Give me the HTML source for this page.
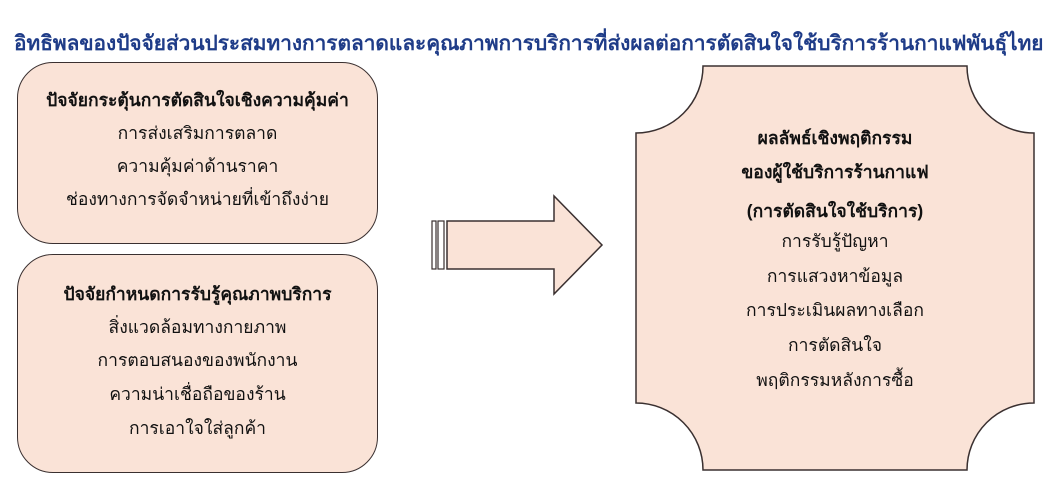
<!DOCTYPE html>
<html><head><meta charset="utf-8"><style>
body{margin:0;width:1056px;height:492px;background:#fff;position:relative;overflow:hidden;font-family:"Liberation Sans","DejaVu Sans",sans-serif;}
.t{position:absolute;white-space:nowrap;color:#111;font-size:17.5px;line-height:20px;text-align:center;}
.b{font-weight:bold;}
.box{position:absolute;background:#fae3d7;border:1.5px solid #3a3030;border-radius:36px;box-sizing:border-box;}
</style></head><body>
<div class="t b" style="left:14px;top:32px;font-size:20.8px;line-height:24px;color:#1f3c88;text-align:left;">อิทธิพลของปัจจัยส่วนประสมทางการตลาดและคุณภาพการบริการที่ส่งผลต่อการตัดสินใจใช้บริการร้านกาแฟพันธุ์ไทย</div>
<div class="box" style="left:17px;top:62px;width:361px;height:182px;"></div>
<div class="box" style="left:17px;top:254px;width:361px;height:219px;"></div>
<svg style="position:absolute;left:0;top:0" width="1056" height="492">
<rect x="432" y="221" width="4" height="48" fill="#fff" stroke="#3a3030" stroke-width="1.2"/>
<rect x="438" y="221" width="6" height="48" fill="#fff" stroke="#3a3030" stroke-width="1.2"/>
<path d="M447 221 H554 V196 L602 245 L554 294 V269 H447 Z" fill="#fae3d7" stroke="#3a3030" stroke-width="1.5"/>
<path d="M703 66 H967 A67 67 0 0 0 1034 133 V403 A67 67 0 0 0 967 470 H703 A67 67 0 0 0 636 403 V133 A67 67 0 0 0 703 66 Z" fill="#fae3d7" stroke="#3a3030" stroke-width="1.5"/>
</svg>
<div class="t b" style="left:17px;width:361px;top:90px;">ปัจจัยกระตุ้นการตัดสินใจเชิงความคุ้มค่า</div>
<div class="t" style="left:17px;width:361px;top:123px;">การส่งเสริมการตลาด</div>
<div class="t" style="left:17px;width:361px;top:156px;">ความคุ้มค่าด้านราคา</div>
<div class="t" style="left:17px;width:361px;top:189px;">ช่องทางการจัดจำหน่ายที่เข้าถึงง่าย</div>
<div class="t b" style="left:17px;width:361px;top:284px;">ปัจจัยกำหนดการรับรู้คุณภาพบริการ</div>
<div class="t" style="left:17px;width:361px;top:317px;">สิ่งแวดล้อมทางกายภาพ</div>
<div class="t" style="left:17px;width:361px;top:350px;">การตอบสนองของพนักงาน</div>
<div class="t" style="left:17px;width:361px;top:384px;">ความน่าเชื่อถือของร้าน</div>
<div class="t" style="left:17px;width:361px;top:418px;">การเอาใจใส่ลูกค้า</div>
<div class="t b" style="left:636px;width:398px;top:128px;">ผลลัพธ์เชิงพฤติกรรม</div>
<div class="t b" style="left:636px;width:398px;top:162px;">ของผู้ใช้บริการร้านกาแฟ</div>
<div class="t b" style="left:636px;width:398px;top:201px;">(การตัดสินใจใช้บริการ)</div>
<div class="t" style="left:636px;width:398px;top:231px;">การรับรู้ปัญหา</div>
<div class="t" style="left:636px;width:398px;top:266px;">การแสวงหาข้อมูล</div>
<div class="t" style="left:636px;width:398px;top:300px;">การประเมินผลทางเลือก</div>
<div class="t" style="left:636px;width:398px;top:335px;">การตัดสินใจ</div>
<div class="t" style="left:636px;width:398px;top:370px;">พฤติกรรมหลังการซื้อ</div>
</body></html>
